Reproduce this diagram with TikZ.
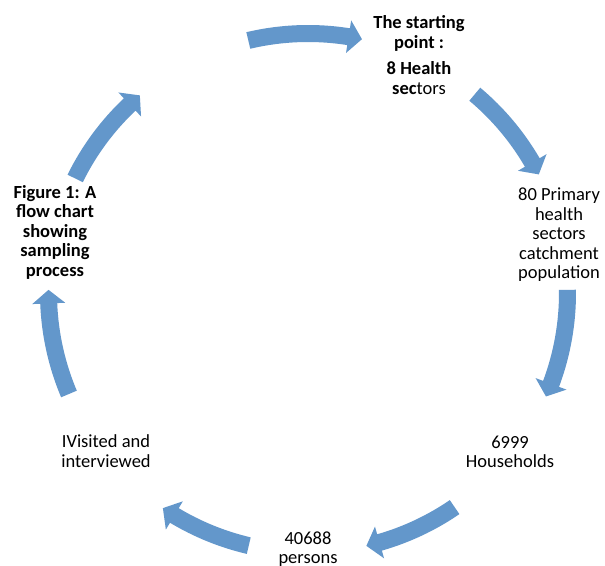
\documentclass[tikz,border=0pt]{standalone}
\usepackage{fontspec}
\setmainfont{Carlito}
\definecolor{cycblue}{RGB}{99,151,203}
\tikzset{
  lbl/.style={align=center, font=\fontsize{18.5}{19.5}\selectfont, text=black, inner sep=0pt},
  cycarrowstyle/.style={fill=cycblue, draw=none},
}
% #1 tail angle, #2 tip angle (clockwise from top)
\newcommand{\mycycarrow}[2]{%
  \pgfmathsetmacro{\mytail}{90-#1}%
  \pgfmathsetmacro{\mytip}{90-#2}%
  \pgfmathsetmacro{\mybase}{\mytip+3}%
  \path[cycarrowstyle] (cen) ++(\mytail:268pt) arc[start angle=\mytail, end angle=\mybase, radius=268pt]
    -- ($(cen)+(\mybase:276pt)$) -- ($(cen)+(\mytip:259.5pt)$) -- ($(cen)+(\mybase:243pt)$)
    -- ($(cen)+(\mybase:251pt)$) arc[start angle=\mybase, end angle=\mytail, radius=251pt] -- cycle;
}
\usetikzlibrary{calc}
\begin{document}
\begin{tikzpicture}
\clip (0,0) rectangle (605pt,-565pt);
\fill[white] (0,0) rectangle (605pt,-565pt);
\coordinate (cen) at (308pt,-293pt);
% arrows
\mycycarrow{-13.3}{12}
\mycycarrow{40}{62.8}
\mycycarrow{89.3}{113.5}
\mycycarrow{145.6}{167}
\mycycarrow{193.2}{214}
\mycycarrow{247.1}{270.7}
\mycycarrow{296.2}{319.6}
% labels
\node[lbl] (start) at (419pt,-55pt) {\textbf{The starting}\\\textbf{point :}\\[7pt]\textbf{8 Health}\\\textbf{sec}tors};
\node[lbl] (primary) at (559pt,-235pt) {80 Primary\\health\\sectors\\catchment\\population};
\node[lbl] (house) at (510pt,-452pt) {6999\\Households};
\node[lbl] (persons) at (308pt,-549pt) {40688\\persons};
\node[lbl] (visit) at (106pt,-451pt) {IVisited and\\interviewed};
\node[lbl] (fig) at (55pt,-232pt) {\textbf{Figure 1: A}\\\textbf{flow chart}\\\textbf{showing}\\\textbf{sampling}\\\textbf{process}};
\end{tikzpicture}
\end{document}
